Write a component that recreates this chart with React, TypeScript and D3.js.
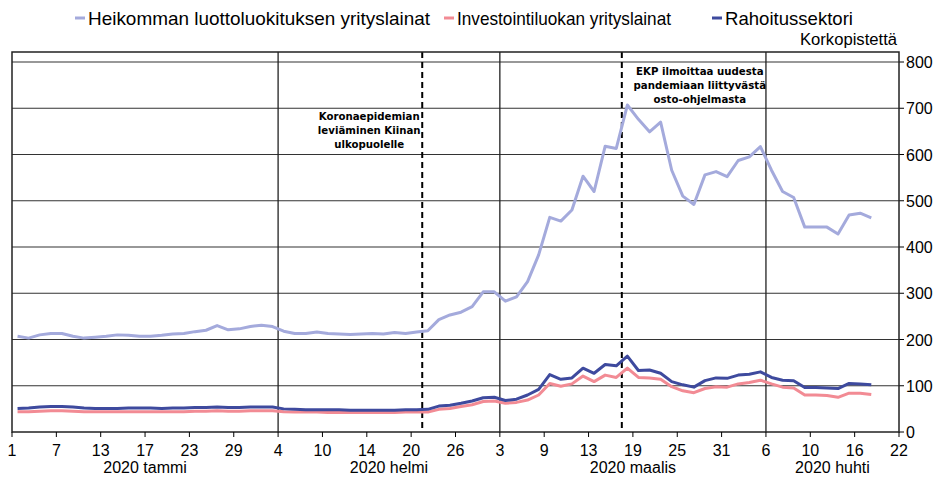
import React from 'react';
import * as d3 from 'd3';

// business-day observations, 1 Jan 2020 – 17 Apr 2020 (basis points)
const highYield = [
  207, 203, 210, 213, 213, 207, 203, 205, 207, 210, 209, 207, 207, 209, 212, 213, 217, 220, 230, 221,
  223, 228, 231, 228, 218, 213, 213, 216, 213, 212, 211, 212, 213, 212, 215, 213, 216, 219, 243, 253,
  259, 271, 303, 303, 283, 292, 325, 383, 464, 456, 480, 553, 520, 618, 613, 707, 676, 649, 670, 566,
  510, 492, 556, 563, 552, 587, 595, 617, 566, 520, 507, 443, 443, 443, 428, 469, 473, 463,
];
const investmentGrade = [
  44, 44, 45, 46, 46, 45, 44, 44, 44, 44, 44, 44, 44, 44, 44, 44, 45, 45, 46, 45,
  45, 46, 46, 46, 44, 43, 43, 43, 42, 42, 42, 42, 42, 42, 42, 43, 43, 43, 49, 51,
  55, 59, 66, 67, 62, 64, 69, 80, 105, 99, 104, 121, 109, 123, 118, 138, 118, 117, 114, 98,
  89, 85, 94, 98, 97, 104, 107, 112, 104, 97, 95, 80, 80, 79, 75, 84, 84, 81,
];
const financials = [
  51, 52, 54, 55, 55, 54, 52, 51, 51, 51, 52, 52, 52, 51, 52, 52, 53, 53, 54, 53,
  53, 54, 54, 54, 50, 49, 48, 48, 48, 48, 47, 47, 47, 47, 47, 48, 48, 49, 56, 58,
  62, 67, 74, 75, 68, 71, 80, 92, 124, 114, 117, 138, 127, 146, 143, 164, 133, 134, 127, 109,
  102, 97, 111, 117, 116, 123, 125, 130, 118, 112, 111, 96, 96, 95, 94, 105, 104, 102,
];

// one tick every 4 business days
const tickLabels = ['1', '7', '13', '17', '23', '29', '4', '10', '14', '20', '26', '3', '9', '13', '19', '25', '31', '6', '10', '16', '22'];
const monthLabels = ['2020 tammi', '2020 helmi', '2020 maalis', '2020 huhti'];
const monthStarts = [0, 24, 44, 68, 80]; // category index of month group boundaries
const eventIndex = [37, 55];
const eventTexts = [
  ['Koronaepidemian', 'leviäminen Kiinan', 'ulkopuolelle'],
  ['EKP ilmoittaa uudesta', 'pandemiaan liittyvästä', 'osto-ohjelmasta'],
];
const yTicks = [0, 100, 200, 300, 400, 500, 600, 700, 800];

const series = [
  { name: 'Heikomman luottoluokituksen yrityslainat', values: highYield, color: '#a4aadc' },
  { name: 'Investointiluokan yrityslainat', values: investmentGrade, color: '#f28b94' },
  { name: 'Rahoitussektori', values: financials, color: '#3e4a9e' },
];

const W = 941;
const H = 479;
const left = 12;
const right = 899;
const top = 52;
const bottom = 432;
const font = '"Liberation Sans", Arial, sans-serif';

export default function App(): React.ReactElement {
  const x = d3.scaleLinear().domain([0, 80]).range([left, right]);
  const y = d3.scaleLinear().domain([0, 800]).range([bottom, 62]);

  const line = d3.line<number>()
    .x((_, i) => x(i + 0.5))
    .y((d) => y(d));

  const legendX = [75, 444, 712];
  const legendW = [342, 214, 128];

  return (
    <svg width={W} height={H} style={{ position: 'absolute', left: 0, top: 0, background: '#fff' }} fontFamily={font}>
      {/* legend */}
      {series.map((s, i) => (
        <g key={s.name} transform={`translate(${legendX[i]},18)`}>
          <line x1={0} x2={10} y1={0} y2={0} stroke={s.color} strokeWidth={3} />
          <text x={13} y={6.5} fontSize={19} fill="#000" textLength={legendW[i]} lengthAdjust="spacingAndGlyphs">{s.name}</text>
        </g>
      ))}
      <text x={897} y={45} textAnchor="end" fontSize={16} fill="#000" textLength={97} lengthAdjust="spacingAndGlyphs">Korkopistettä</text>

      {/* horizontal gridlines */}
      {yTicks.map((t) => (
        <g key={t}>
          {t > 0 && <line x1={left} x2={right} y1={y(t)} y2={y(t)} stroke="#333" strokeWidth={1.2} />}
          <line x1={right} x2={right + 5} y1={y(t)} y2={y(t)} stroke="#000" />
          <text x={right + 7} y={y(t) + 6} fontSize={16} fill="#000">{t}</text>
        </g>
      ))}

      {/* month group separators */}
      {monthStarts.slice(1, -1).map((m) => (
        <line key={m} x1={x(m)} x2={x(m)} y1={top} y2={bottom} stroke="#222" strokeWidth={1.3} />
      ))}

      {/* event lines */}
      {eventIndex.map((e) => (
        <line key={e} x1={x(e)} x2={x(e)} y1={top} y2={bottom} stroke="#000" strokeWidth={2} strokeDasharray="6,4" />
      ))}

      {/* series */}
      {series.map((s) => (
        <path key={s.name} d={line(s.values) ?? ''} fill="none" stroke={s.color} strokeWidth={3} strokeLinejoin="round" />
      ))}

      {/* frame */}
      <rect x={left} y={top} width={right - left} height={bottom - top} fill="none" stroke="#222" strokeWidth={1.5} />

      {/* x ticks */}
      {tickLabels.map((lab, i) => (
        <g key={i} transform={`translate(${x(i * 4)},${bottom})`}>
          <line y1={0} y2={5} stroke="#000" />
          <text y={24} textAnchor="middle" fontSize={16} fill="#000">{lab}</text>
        </g>
      ))}
      {monthLabels.map((m, i) => (
        <text key={m} x={x((monthStarts[i] + monthStarts[i + 1]) / 2)} y={473} textAnchor="middle" fontSize={16} fill="#000">{m}</text>
      ))}

      {/* annotations */}
      {eventTexts.map((lines, k) => {
        const cx = k === 0 ? x(eventIndex[0]) - 53 : x(eventIndex[1]) + 78;
        const y0 = k === 0 ? 120 : 75;
        return (
          <text key={k} textAnchor="middle" fontSize={10.2} fontWeight="bold" fontFamily='"DejaVu Sans", Verdana, sans-serif' fill="#000">
            {lines.map((l, j) => (
              <tspan key={j} x={cx} y={y0 + j * 14}>{l}</tspan>
            ))}
          </text>
        );
      })}
    </svg>
  );
}
